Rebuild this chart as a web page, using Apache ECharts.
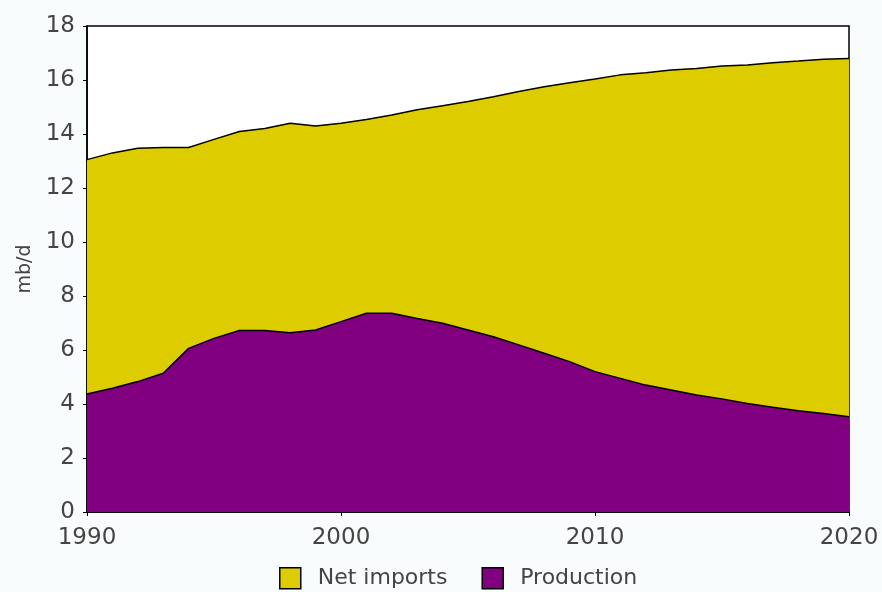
<!DOCTYPE html>
<html><head><meta charset="utf-8">
<script src="https://cdn.jsdelivr.net/npm/echarts@6/dist/echarts.min.js"></script>
<style>html,body{margin:0;padding:0;background:#f9fcfd;}#c{width:882px;height:592px;}</style>
</head><body><div id="c"></div>
<script>
const years = ['1990','1991','1992','1993','1994','1995','1996','1997','1998','1999','2000','2001','2002','2003','2004','2005','2006','2007','2008','2009','2010','2011','2012','2013','2014','2015','2016','2017','2018','2019','2020'];
const production = [4.37,4.58,4.83,5.14,6.06,6.43,6.72,6.72,6.64,6.74,7.05,7.36,7.36,7.17,6.99,6.74,6.49,6.19,5.88,5.57,5.20,4.95,4.70,4.52,4.33,4.19,4.02,3.88,3.75,3.65,3.53];
const netImports = [8.68,8.72,8.64,8.36,7.44,7.37,7.37,7.48,7.76,7.56,7.35,7.18,7.34,7.73,8.06,8.46,8.89,9.38,9.87,10.33,10.84,11.24,11.57,11.85,12.10,12.33,12.54,12.76,12.95,13.12,13.27];
const xTickLabels = ['1990','2000','2010','2020'];

const chart = echarts.init(document.getElementById('c'), null, {renderer:'canvas'});
const font = '"DejaVu Sans", sans-serif';
chart.setOption({
  animation:false,
  backgroundColor:'#f9fcfd',
  grid:{left:87,right:33,top:26,bottom:80,show:true,backgroundColor:'#ffffff',borderColor:'#000',borderWidth:1.5},
  legend:{
    top:562,left:274,
    data:['Net imports','Production'],
    icon:'rect',itemWidth:21,itemHeight:21,itemGap:34,
    textStyle:{fontFamily:font,fontSize:22,color:'#444',padding:[0,0,0,12]},
    itemStyle:{borderColor:'#000',borderWidth:1.5}
  },
  xAxis:{
    type:'category',data:years,boundaryGap:false,
    axisLine:{lineStyle:{color:'#000',width:1.5}},
    axisTick:{show:true,length:4,interval:(i,v)=>xTickLabels.includes(v),lineStyle:{color:'#000'}},
    splitLine:{show:false},
    axisLabel:{fontFamily:font,fontSize:23,color:'#444',margin:15,interval:(i,v)=>xTickLabels.includes(v)}
  },
  yAxis:{
    type:'value',min:0,max:18,interval:2,
    name:'mb/d',nameLocation:'middle',nameGap:52,nameRotate:90,
    nameTextStyle:{fontFamily:font,fontSize:19,color:'#444'},
    axisLine:{show:true,lineStyle:{color:'#000',width:1.5}},
    axisTick:{show:true,length:4,lineStyle:{color:'#000'}},
    splitLine:{show:false},
    axisLabel:{fontFamily:font,fontSize:23,color:'#444',margin:12}
  },
  series:[
    {name:'Production',type:'line',stack:'t',symbol:'none',
     data:production,
     lineStyle:{color:'#000',width:1.5},itemStyle:{color:'#800080'},
     areaStyle:{color:'#800080',opacity:1}},
    {name:'Net imports',type:'line',stack:'t',symbol:'none',
     data:netImports,
     lineStyle:{color:'#000',width:1.5},itemStyle:{color:'#ddcc00'},
     areaStyle:{color:'#ddcc00',opacity:1}}
  ]
});
</script></body></html>
